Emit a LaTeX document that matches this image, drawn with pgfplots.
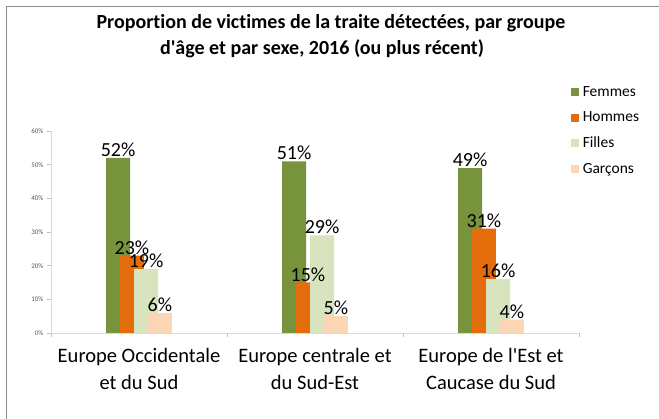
\documentclass[border=0pt]{standalone}
\usepackage{fontspec}
\setmainfont{Carlito}[Ligatures={NoCommon}]
\usepackage{pgfplots}
\pgfplotsset{compat=1.18}
\definecolor{cF}{HTML}{77933C}
\definecolor{cH}{HTML}{E46C0A}
\definecolor{cFi}{HTML}{D7E4BD}
\definecolor{cG}{HTML}{FCD5B5}
\pgfplotsset{ybar legend/.style={legend image code/.code={\fill[##1,draw=none] (0pt,-4pt) rectangle (8pt,4pt);}}}
\begin{document}
\begin{tikzpicture}
\path[use as bounding box] (0pt,0pt) rectangle (659pt,419pt);
\draw[black!45, line width=1pt] (6.5pt,0pt) -- (6.5pt,412.5pt) -- (659pt,412.5pt);
\node[font=\fontsize{20}{24}\selectfont\bfseries] at (331pt,396pt) {Proportion de victimes de la traite détectées, par groupe};
\node[font=\fontsize{20}{24}\selectfont\bfseries] at (322pt,370pt) {d\textquotesingle âge et par sexe, 2016 (ou plus récent)};
\begin{axis}[
  at={(51pt,86pt)}, anchor=origin, scale only axis,
  width=528pt, height=202pt,
  ybar, bar width=0.136,
  ymin=0, ymax=60, xmin=0, xmax=3,
  ytick={0,10,...,60},
  yticklabel={\pgfmathprintnumber{\tick}\%},
  /pgf/number format/assume math mode=true,
  axis x line*=bottom, axis y line*=left,
  axis line style={draw=black!15, line width=0.8pt, -},
  tick style={draw=black!25, line width=0.6pt},
  tick align=outside,
  major tick length=4pt,
  xtick={0,1,2,3}, xticklabels={},
  extra x ticks={0.5,1.5,2.5},
  extra x tick labels={Europe Occidentale\\et du Sud, Europe centrale et\\du Sud-Est, Europe de l\textquotesingle Est et\\Caucase du Sud},
  extra x tick style={major tick length=0pt, tick label style={font=\fontsize{20.5}{27}\selectfont, align=center, text=black, yshift=-12pt}},
  yticklabel style={font=\fontsize{7}{8}\selectfont, text=black!65},
  nodes near coords={\pgfmathprintnumber{\pgfplotspointmeta}\%},
  every node near coord/.append style={font=\fontsize{20}{22}\selectfont, text=black, inner sep=1pt},
  legend style={at={(axis description cs:0.985,1.232)}, anchor=north west, draw=none, fill=none,
    font=\fontsize{15.5}{17}\selectfont, row sep=10pt, nodes={inner xsep=3.5pt}, inner sep=0pt},
  legend cell align=left,
  clip=false,
]
\addplot[fill=cF, draw=none, bar shift=-0.119] coordinates {(0.5,52) (1.5,51) (2.5,49)};
\addplot[fill=cH, draw=none, bar shift=-0.040] coordinates {(0.5,23) (1.5,15) (2.5,31)};
\addplot[fill=cFi, draw=none, bar shift=0.040] coordinates {(0.5,19) (1.5,29) (2.5,16)};
\addplot[fill=cG, draw=none, bar shift=0.119] coordinates {(0.5,6) (1.5,5) (2.5,4)};
\legend{Femmes, Hommes, Filles, Garçons}
\end{axis}
\end{tikzpicture}
\end{document}
